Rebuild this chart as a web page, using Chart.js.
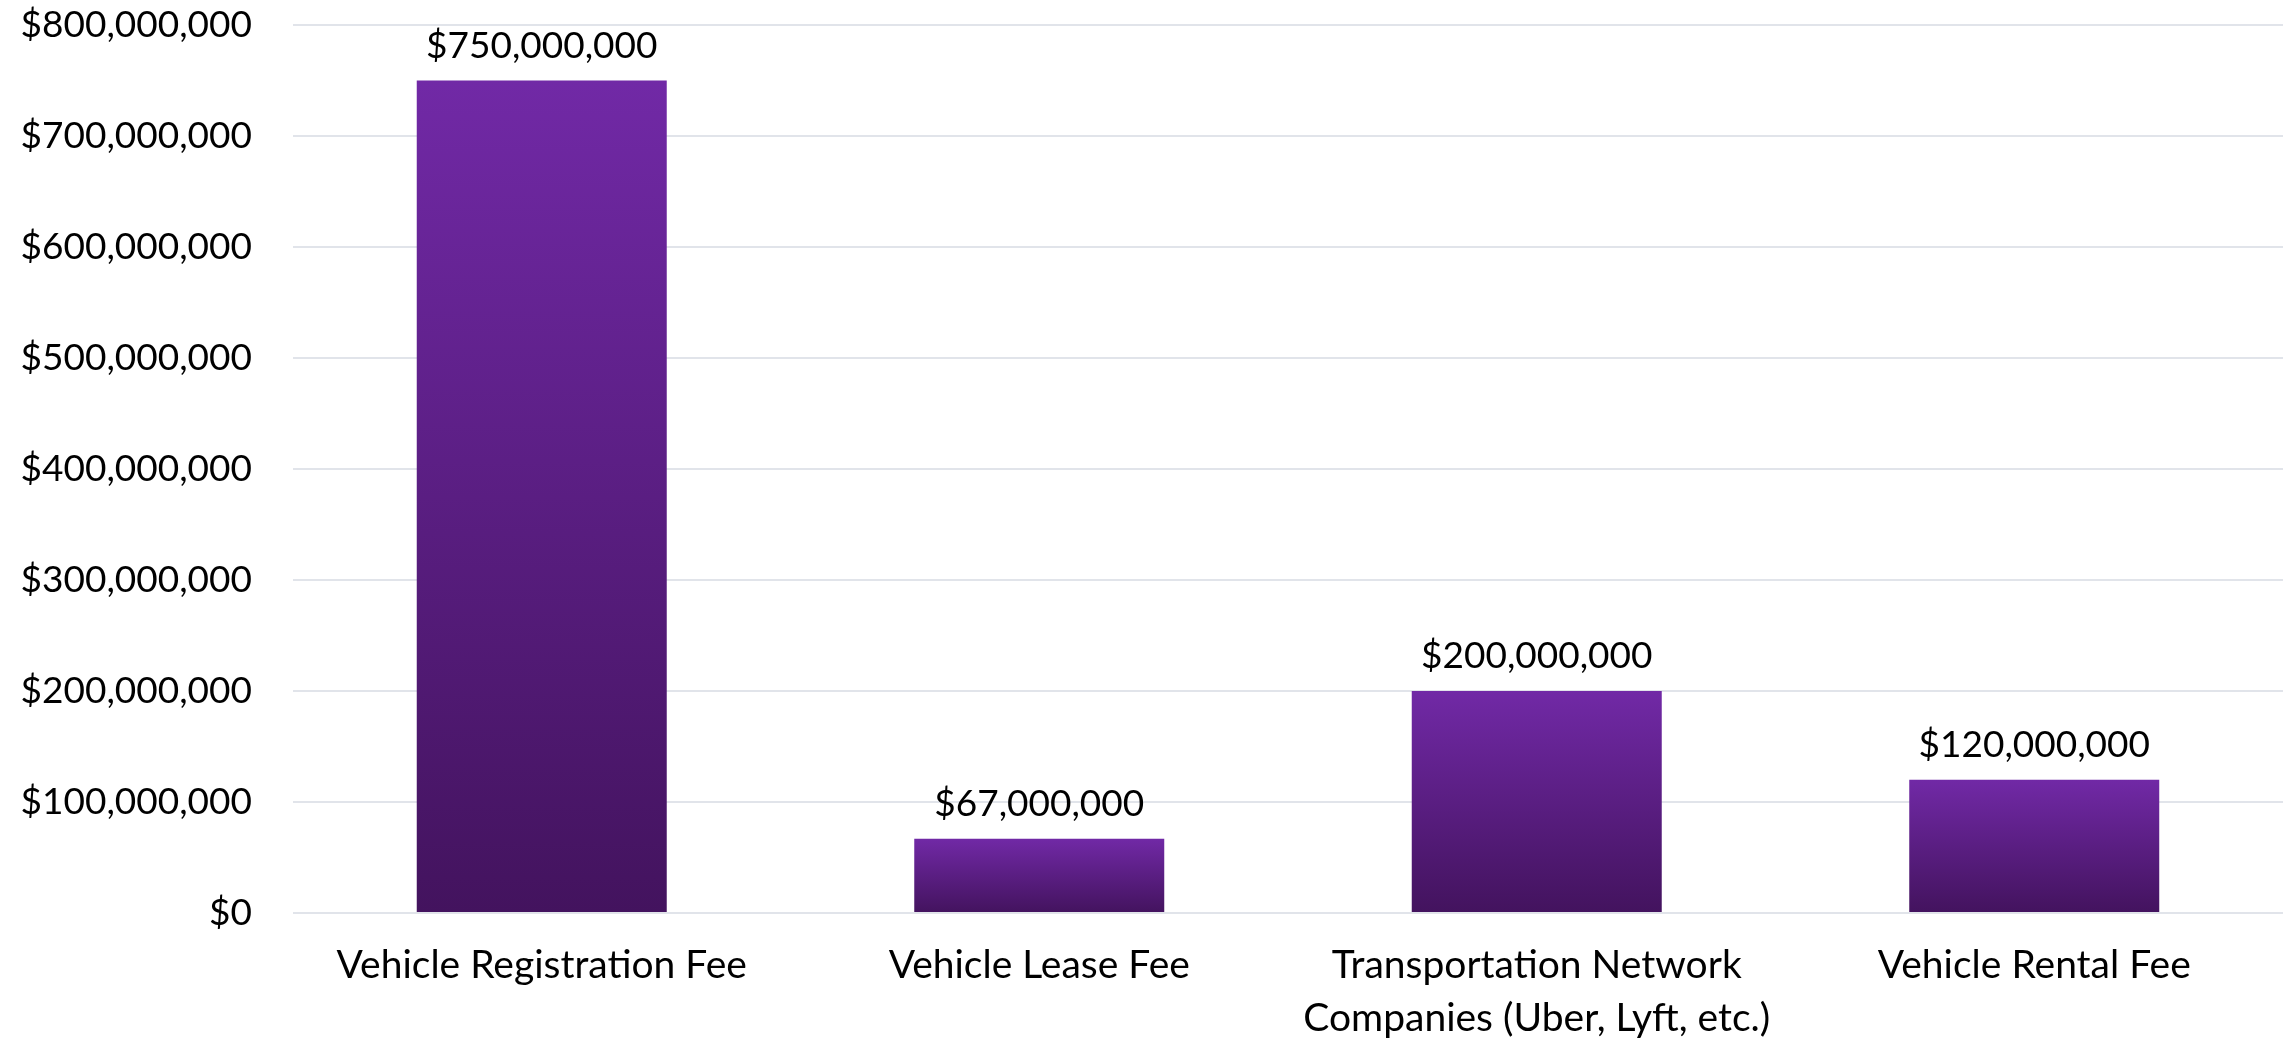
<!DOCTYPE html>
<html>
<head>
<meta charset="utf-8">
<script src="https://cdn.jsdelivr.net/npm/chart.js@4/dist/chart.umd.min.js"></script>
<style>
  html, body { margin: 0; padding: 0; background: #ffffff; }
  #wrap { width: 2285px; height: 1044px; position: relative; }
</style>
</head>
<body>
<div id="wrap"><canvas id="c" width="2285" height="1044"></canvas></div>
<script>
const categories = [
  'Vehicle Registration Fee',
  'Vehicle Lease Fee',
  ['Transportation Network', 'Companies (Uber, Lyft, etc.)'],
  'Vehicle Rental Fee'
];
const revenue = [750000000, 67000000, 200000000, 120000000];
const yMin = 0;
const yMax = 800000000;
const yStep = 100000000;

const FONT = 'Lato';
const NUM_SIZE = 37;
const CAT_SIZE = 39;
const TOP_COLOR = '#7129a6';
const BOTTOM_COLOR = '#43135e';

function money(v) {
  return '$' + Number(v).toLocaleString('en-US');
}

const dataLabels = {
  id: 'dataLabels',
  afterDatasetsDraw(chart) {
    const ctx = chart.ctx;
    const meta = chart.getDatasetMeta(0);
    ctx.save();
    ctx.font = NUM_SIZE + 'px ' + FONT;
    ctx.fillStyle = '#000000';
    ctx.textAlign = 'center';
    ctx.textBaseline = 'alphabetic';
    meta.data.forEach((el, i) => {
      ctx.fillText(money(revenue[i]), el.x, el.y - 23);
    });
    ctx.restore();
  }
};

new Chart(document.getElementById('c'), {
  type: 'bar',
  data: {
    labels: categories,
    datasets: [{
      data: revenue,
      barPercentage: 0.5025,
      categoryPercentage: 1.0,
      borderWidth: 0,
      backgroundColor(context) {
        const chart = context.chart;
        const y = chart.scales && chart.scales.y;
        const i = context.dataIndex;
        if (!y || i === undefined) return TOP_COLOR;
        const top = y.getPixelForValue(revenue[i]);
        const bot = y.getPixelForValue(0);
        if (!isFinite(top) || !isFinite(bot) || top === bot) return TOP_COLOR;
        const g = chart.ctx.createLinearGradient(0, top, 0, bot);
        g.addColorStop(0, TOP_COLOR);
        g.addColorStop(1, BOTTOM_COLOR);
        return g;
      }
    }]
  },
  options: {
    responsive: false,
    animation: false,
    devicePixelRatio: 1,
    layout: { padding: { top: 25, right: 2, left: 0, bottom: 0 } },
    plugins: {
      legend: { display: false },
      tooltip: { enabled: false },
      title: { display: false }
    },
    scales: {
      x: {
        offset: true,
        grid: { display: false, drawTicks: false },
        border: { display: false },
        ticks: {
          color: '#000000',
          font: { family: FONT, size: CAT_SIZE, lineHeight: 53 / CAT_SIZE },
          padding: 26,
          maxRotation: 0,
          minRotation: 0,
          autoSkip: false
        },
        afterFit(scale) { scale.height = 131; scale.paddingLeft = 0; scale.paddingRight = 0; }
      },
      y: {
        min: yMin,
        max: yMax,
        grid: { color: '#e1e4ea', lineWidth: 2, drawTicks: false },
        border: { display: false },
        ticks: {
          stepSize: yStep,
          color: '#000000',
          font: { family: FONT, size: NUM_SIZE },
          padding: 41,
          callback: (v) => money(v)
        },
        afterFit(scale) { scale.width = 293; scale.paddingTop = 0; scale.paddingBottom = 0; }
      }
    }
  },
  plugins: [dataLabels]
});
</script>
</body>
</html>
